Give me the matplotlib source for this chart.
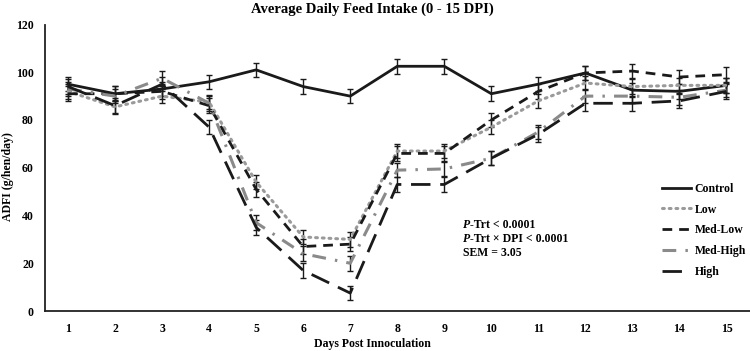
import matplotlib
matplotlib.use("Agg")
import matplotlib.pyplot as plt

days = list(range(1, 16))
control = [95, 91, 93, 96, 101, 94, 90, 102.5, 102.5, 91, 95, 99.7, 92.5, 92, 94.5]
low = [92, 85.5, 90, 87.5, 54, 31, 30, 67, 67, 77, 88, 95.5, 94, 94.5, 94.5]
med_low = [91, 91, 92, 86, 51, 27, 28, 66, 66, 80, 92, 99.7, 100.5, 98, 99]
med_high = [93, 90, 97.5, 87, 37, 24, 20, 59, 59.5, 64, 75, 90, 90, 89.5, 92.5]
high = [94, 86, 95, 77, 35, 17, 7.5, 53, 53, 64, 74, 87, 87, 88, 92]
sem = 3.05
names = ["Control", "Low", "Med-Low", "Med-High", "High"]
series = [control, low, med_low, med_high, high]
yticks = [0, 20, 40, 60, 80, 100, 120]

plt.rcParams['font.family'] = ['Liberation Serif', 'DejaVu Serif']
plt.rcParams['font.weight'] = 'bold'

fig = plt.figure(figsize=(7.5, 3.51), dpi=100)
ax = fig.add_axes([45/750, 1-311/351, 705/750, (311-24.5)/351])

styles = [
    dict(color='#1a1a1a', linestyle='-', lw=2.0),
    dict(color='#9a9a9a', linestyle=(0, (0.6, 1.6)), lw=2.2, dash_capstyle='round'),
    dict(color='#1a1a1a', linestyle=(0, (3.5, 2.5)), lw=2.0),
    dict(color='#8a8a8a', linestyle=(0, (4.5, 3, 0.8, 3)), lw=2.2),
    dict(color='#1a1a1a', linestyle=(0, (7, 3.5)), lw=2.0),
]

handles = []
for name, vals, st in zip(names, series, styles):
    ax.errorbar(days, vals, yerr=sem, fmt='none', ecolor='#1a1a1a', elinewidth=1.0,
                capsize=2.5, capthick=1.0, zorder=2)
    h, = ax.plot(days, vals, label=name, zorder=3, **st)
    handles.append(h)

ax.set_xlim(0.51, 15.5)
ax.set_ylim(0, 120)
ax.set_xticks(days)
ax.set_yticks(yticks)
ax.tick_params(axis='x', length=0, labelsize=8.5, pad=9)
ax.tick_params(axis='y', length=0, labelsize=8.5, pad=8)
for lab in ax.get_xticklabels() + ax.get_yticklabels():
    lab.set_fontweight('bold')
for s in ['top', 'right']:
    ax.spines[s].set_visible(False)
for s in ['left', 'bottom']:
    ax.spines[s].set_linewidth(1.3)
    ax.spines[s].set_color('#222222')

fig.text(372/750, 1-344/351, 'Days Post Innoculation', ha='center', va='center',
         fontsize=8.5, fontweight='bold')
fig.text(8/750, 1-177/351, 'ADFI (g/hen/day)', ha='center', va='center', rotation=90,
         fontsize=8.5, fontweight='bold')
fig.text(372/750, 1-9/351, 'Average Daily Feed Intake (0 - 15 DPI)', ha='center', va='center',
         fontsize=10.5, fontweight='bold')

leg = ax.legend(handles=handles, loc='upper left', bbox_to_anchor=(612/705, 1-(178-24.5)/286.5),
                frameon=False, fontsize=8.5, handlelength=2.5, handletextpad=0.3,
                labelspacing=0.75, borderaxespad=0)
for t in leg.get_texts():
    t.set_fontweight('bold')

tx = 463/750
lines = [('P', '-Trt < 0.0001'), ('P', '-Trt × DPI < 0.0001'), ('', 'SEM = 3.05')]
ys = [225, 239, 252.5]
fig.canvas.draw()
for (a, b), yy in zip(lines, ys):
    yf = 1 - yy/351
    if a:
        t1 = fig.text(tx, yf, a, fontsize=8.5, fontweight='bold', fontstyle='italic', va='center')
        fig.canvas.draw()
        bb = t1.get_window_extent()
        fig.text(bb.x1/750, yf, b, fontsize=8.5, fontweight='bold', va='center')
    else:
        fig.text(tx, yf, b, fontsize=8.5, fontweight='bold', va='center')

fig.savefig('out.png', dpi=100)
